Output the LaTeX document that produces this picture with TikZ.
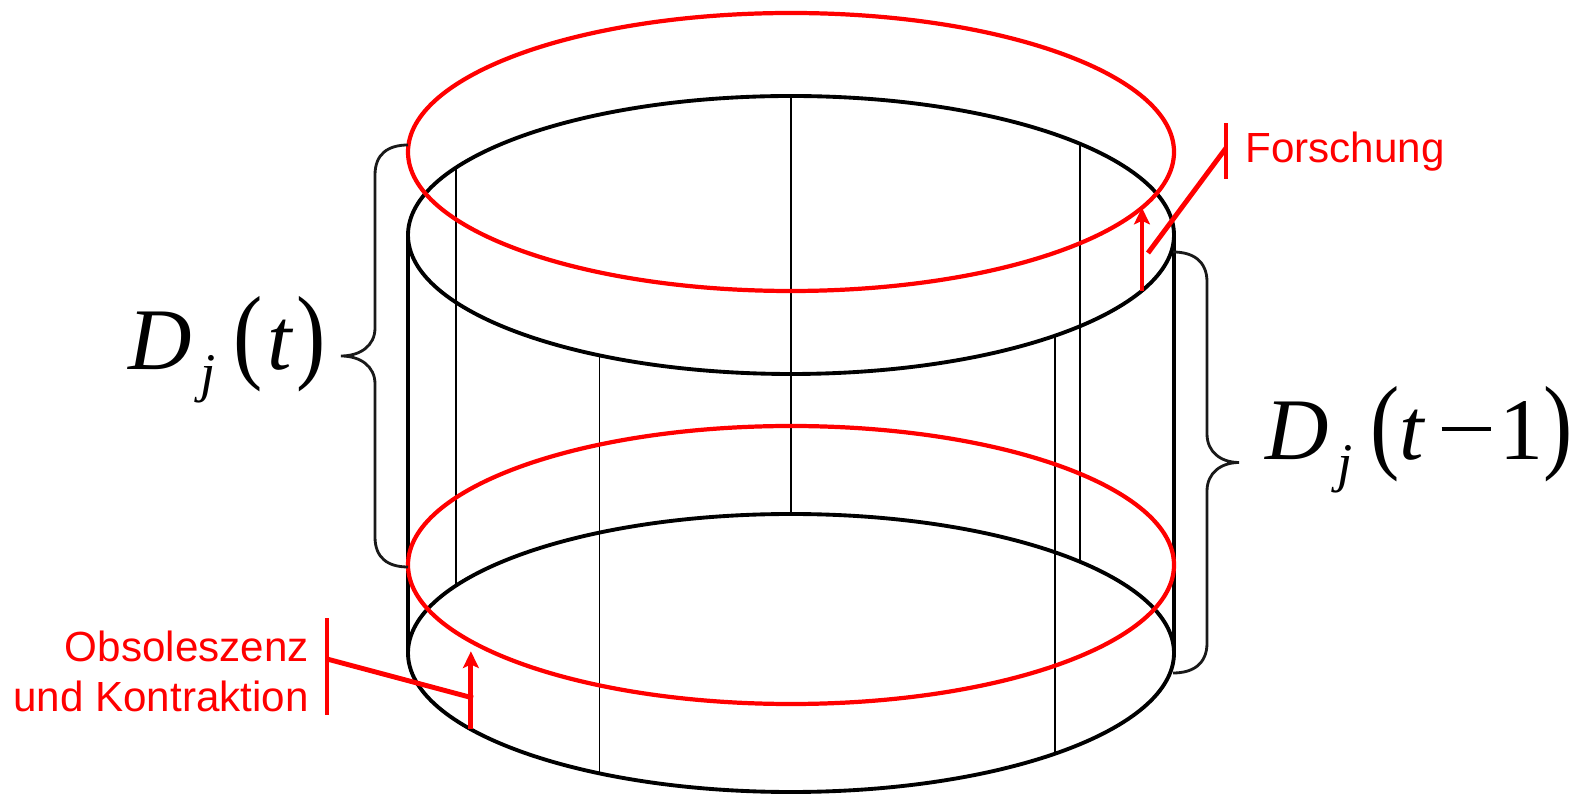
\documentclass[tikz,border=0pt]{standalone}
\usepackage{fontspec}
\setmainfont{Liberation Sans}
\newfontfamily\timesfont{Liberation Serif}
\usepackage{graphicx}
\usetikzlibrary{arrows.meta,positioning,calc,decorations.pathreplacing}
\tikzset{
  rim/.style={line width=2.2pt},
  redrim/.style={line width=2.4pt, red},
  side/.style={line width=2.5pt},
  seam/.style={line width=1.1pt},
  leader/.style={line width=2.8pt, red},
  growarrow/.style={line width=2.8pt, red, -{Stealth[length=9.5pt,width=9pt,inset=2pt]}},
  curly/.style={line width=1.6pt, black!90},
  redlabel/.style={text=red, font=\fontsize{24}{28.5}\selectfont, inner sep=0pt},
  dlabel/.style={font=\timesfont\fontsize{50}{50}\selectfont, inner sep=0pt}
}
\newcommand{\tallparen}[1]{\scalebox{1}[1.2]{#1}}

\begin{document}
\begin{tikzpicture}[x=0.02cm, y=0.02cm]
\useasboundingbox (0,0) rectangle (1581,794);
% Centres of the rims
\coordinate (top) at (791,559);
\coordinate (bot) at (791,141);
\coordinate (rtop) at (791,642);
\coordinate (rbot) at (791,229);
% Black cylinder
\draw[rim] (top) ellipse [x radius=383, y radius=139];
\draw[rim] (bot) ellipse [x radius=383, y radius=139];
\draw[side] ($(top)+(-383,0)$) -- ($(bot)+(-383,0)$);
\draw[side] ($(top)+(383,0)$) -- ($(bot)+(383,0)$);
\foreach \a in {151,90,41,240,313.6} {
  \draw[seam] ($(top)+(\a:383 and 139)$) -- ($(bot)+(\a:383 and 139)$);
}
% Red rims
\draw[redrim] (rtop) ellipse [x radius=383, y radius=139];
\draw[redrim] (rbot) ellipse [x radius=383, y radius=139];
% Growth arrows
\coordinate (fbase) at ($(top)+(-23.6:383 and 139)$);
\coordinate (ftip) at ($(rtop)+(-23.6:383 and 139)$);
\draw[growarrow] (fbase) -- (ftip);
\coordinate (obase) at ($(bot)+(213.3:383 and 139)$);
\coordinate (otip) at ($(rbot)+(213.3:383 and 139)$);
\draw[growarrow, shorten >=0.2cm] (obase) -- (otip);
% Labels with leaders
\node[redlabel, anchor=base west] (forsch) at (1245,631) {Forschung};
\draw[leader] (1226,615) -- (1226,671);
\coordinate (fbar) at (1226,646);
\coordinate (fend) at (1148,541);
\draw[leader] (fbar) -- (fend);
\node[redlabel, anchor=base east, align=right] (obsol) at (309,82) {Obsoleszenz\\und Kontraktion};
\draw[leader] (327,79) -- (327,176);
\coordinate (obar) at (327,135);
\coordinate (oend) at (473,96);
\draw[leader] (obar) -- (oend);
% Braces
\draw[curly] (408,649) .. controls (388,649) and (375,640) .. (375,619) -- (375,466)
  .. controls (375,448) and (360,438) .. (341,438) .. controls (360,438) and (375,428) .. (375,410)
  -- (375,257) .. controls (375,236) and (388,227) .. (408,227);
\draw[curly] (1173,542) .. controls (1193,542) and (1207,533) .. (1207,512) -- (1207,360)
  .. controls (1207,342) and (1221,331.5) .. (1239,331.5) .. controls (1221,331.5) and (1207,321) .. (1207,303)
  -- (1207,151) .. controls (1207,130) and (1193,121) .. (1173,121);
\node[dlabel, anchor=base west] (dnow) at (128,424)
  {\itshape D\kern.1em\raisebox{-.25em}{\fontsize{31}{31}\selectfont j}\kern.2em\upshape\tallparen{(}\kern.06em\itshape t\upshape\kern.05em\tallparen{)}};
\node[dlabel, anchor=base west] (dprev) at (1265,334)
  {\itshape D\kern.1em\raisebox{-.25em}{\fontsize{31}{31}\selectfont j}\kern.2em\upshape\tallparen{(}\itshape t\upshape\kern.2em\rule[.33em]{.56em}{.045em}\kern.1em 1\tallparen{)}};
\end{tikzpicture}
\end{document}
